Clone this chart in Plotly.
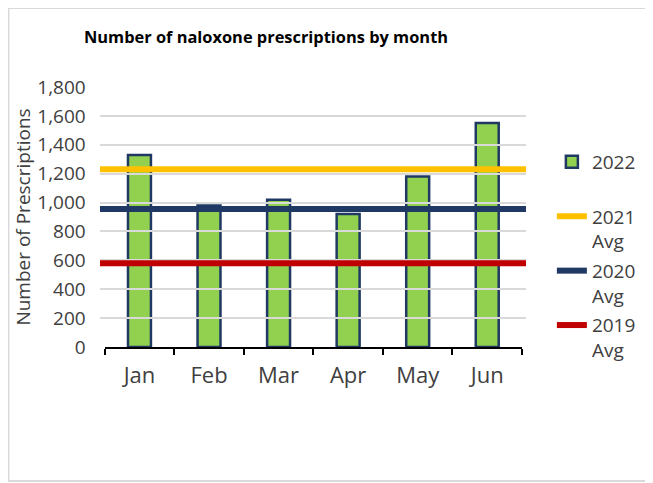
import plotly.graph_objects as go

months = ["Jan", "Feb", "Mar", "Apr", "May", "Jun"]
rx_2022 = [1330, 980, 1020, 920, 1180, 1550]
avg_2021 = 1230
avg_2020 = 955
avg_2019 = 580
y_ticks = [0, 200, 400, 600, 800, 1000, 1200, 1400, 1600, 1800]
y_tick_text = ["0", "200", "400", "600", "800", "1,000", "1,200", "1,400", "1,600", "1,800"]

FONT = "Open Sans"
TXT = "#404040"

# figure is placed 8px in from the page corner by the browser's body margin
W, H = 645, 475
L, R, T, B = 92, 125, 79, 136
PW, PH = W - L - R, H - T - B

fig = go.Figure()
fig.add_trace(go.Bar(
    x=months, y=rx_2022, name="2022<br> ",
    marker=dict(color="#92D050", line=dict(color="#203864", width=2.5)),
    xaxis="x", yaxis="y", legendgroup="a",
))
avg_lines = [
    ("2021<br>Avg", avg_2021, "#FFC000", "b"),
    ("2020<br>Avg", avg_2020, "#203864", "c"),
    ("2019<br>Avg", avg_2019, "#C00000", "d"),
]
for name, val, col, grp in avg_lines:
    fig.add_trace(go.Scatter(
        x=[0, 1], y=[val, val], name=name, mode="lines",
        line=dict(color=col, width=6), xaxis="x2", yaxis="y", legendgroup=grp,
    ))


def px_x(p):
    return (p - L) / PW


def px_y(p):
    return (H - B - p) / PH


fig.update_layout(
    width=W, height=H,
    margin=dict(l=L, r=R, t=T, b=B),
    paper_bgcolor="white",
    plot_bgcolor="rgba(0,0,0,0)",
    font=dict(family=FONT, size=19, color=TXT),
    title=dict(text="<b>Number of naloxone prescriptions by month</b>",
               x=258 / W, xref="container", xanchor="center",
               y=1 - 29 / H, yref="container", yanchor="middle",
               font=dict(family=FONT, size=16.4, color="black")),
    bargap=0.67,
    showlegend=True,
    legend=dict(x=px_x(546), y=px_y(135), xanchor="left", yanchor="top",
                traceorder="grouped", tracegroupgap=2, valign="top",
                bgcolor="rgba(0,0,0,0)", font=dict(size=19, color=TXT)),
    xaxis=dict(domain=[px_x(96.7), px_x(516)], type="category",
               showline=True, linecolor="black", linewidth=2,
               ticks="outside", tickson="boundaries", ticklen=6, tickwidth=2,
               tickcolor="black", showgrid=False, zeroline=False,
               ticklabelstandoff=8,
               tickfont=dict(size=22, color=TXT)),
    xaxis2=dict(domain=[0, 1], range=[0, 1], anchor="y", visible=False,
                showgrid=False, zeroline=False),
    yaxis=dict(range=[0, 1800], tickvals=y_ticks, ticktext=y_tick_text,
               showgrid=True, gridcolor="#D9D9D9", gridwidth=2,
               zeroline=False, showline=False, ticklabelstandoff=18,
               title=dict(text="Number of Prescriptions", standoff=1,
                          font=dict(size=19, color=TXT)),
               tickfont=dict(size=19, color=TXT)),
    shapes=[dict(type="rect", xref="paper", yref="paper",
                 x0=px_x(0), x1=px_x(660), y0=px_y(473), y1=px_y(0),
                 fillcolor="white", line=dict(color="#D9D9D9", width=2),
                 layer="below")],
)

fig.write_html("out.html")
